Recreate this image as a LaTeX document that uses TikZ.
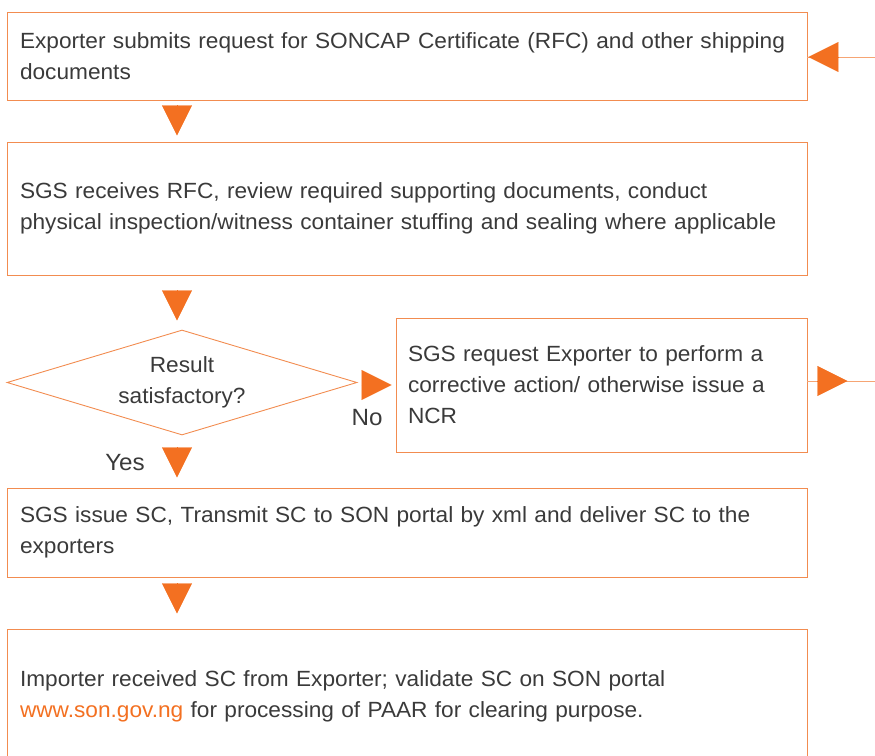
\documentclass[tikz,border=0pt]{standalone}
\usepackage{fontspec}
\setmainfont[FakeStretch=1.03]{Liberation Sans}
\usepackage{tikz}
\usetikzlibrary{shapes.geometric,arrows.meta,calc,positioning}
\definecolor{sgsorange}{HTML}{F37021}
\definecolor{boxline}{HTML}{F28C50}
\definecolor{feedcol}{HTML}{F6A574}
\definecolor{txtgray}{HTML}{3A3A3A}
\tikzset{stepbox/.style={draw=boxline,line width=0.9pt,rectangle,text=txtgray,
		align=left,inner xsep=13pt,text width=774pt,font=\fontsize{22}{31}\selectfont},
	decision/.style={draw=boxline,line width=0.9pt,diamond,aspect=3.33,text=txtgray,align=center,
		minimum width=350pt,minimum height=105pt,inner sep=0pt,font=\fontsize{22}{31}\selectfont},
	flowtip/.style={sgsorange,line width=0.1pt,-{Triangle[width=30pt,length=30pt]}},
	feedline/.style={draw=feedcol,line width=1pt},
	answer/.style={text=txtgray,font=\fontsize{23.5}{28}\selectfont}}

\begin{document}
\begin{tikzpicture}[x=1pt,y=-1pt]
\useasboundingbox (0,0) rectangle (875,755);
\coordinate (col) at (177,0);
\node [stepbox,minimum height=88pt] (rfc) at (407,56)
  {Exporter submits request for SONCAP Certificate (RFC) and other shipping\\documents};
\node [stepbox,minimum height=133pt] (review) at (407,208.5)
  {SGS receives RFC, review required supporting documents, conduct\\physical inspection/witness container stuffing and sealing where applicable};
\node [decision] (result) at (182,382.5) {Result\\satisfactory?};
\node [stepbox,minimum height=134pt,text width=387pt,inner xsep=12pt] (ncr) at (601.5,385)
  {SGS request Exporter to perform a\\corrective action/ otherwise issue a\\NCR};
\node [stepbox,minimum height=89pt] (issue) at (407,532.5)
  {SGS issue SC, Transmit SC to SON portal by xml and deliver SC to the\\exporters};
\node [stepbox,minimum height=135pt] (import) at (407,696.5)
  {Importer received SC from Exporter; validate SC on SON portal\\{\color{sgsorange}www.son.gov.ng} for processing of PAAR for clearing purpose.};
\node [answer] (no) at (367,418) {No};
\node [answer] (yes) at (125,463) {Yes};
\coordinate (in1) at (875,57);
\coordinate (out3) at (875,381);
% arrows between the steps
\draw[flowtip] ($(rfc.south -| col)+(0,5)$) -- ++(0,30);
\draw[flowtip] ($(review.south -| col)+(0,15)$) -- ++(0,30);
\draw[flowtip] ($(result.south -| col)+(0,12)$) -- ++(0,30);
\draw[flowtip] ($(issue.south -| col)+(0,6)$) -- ++(0,30);
\draw[flowtip] ($(ncr.west)+(-34,0)$) -- ++(30,0);
% feedback lines on the right
\draw[feedline] (in1) -- (in1 -| rfc.east);
\draw[flowtip] ($(in1 -| rfc.east)+(31,0)$) -- ++(-30,0);
\draw[feedline] (out3 -| ncr.east) -- (out3);
\draw[flowtip] ($(out3 -| ncr.east)+(10,0)$) -- ++(30,0);
\end{tikzpicture}
\end{document}
